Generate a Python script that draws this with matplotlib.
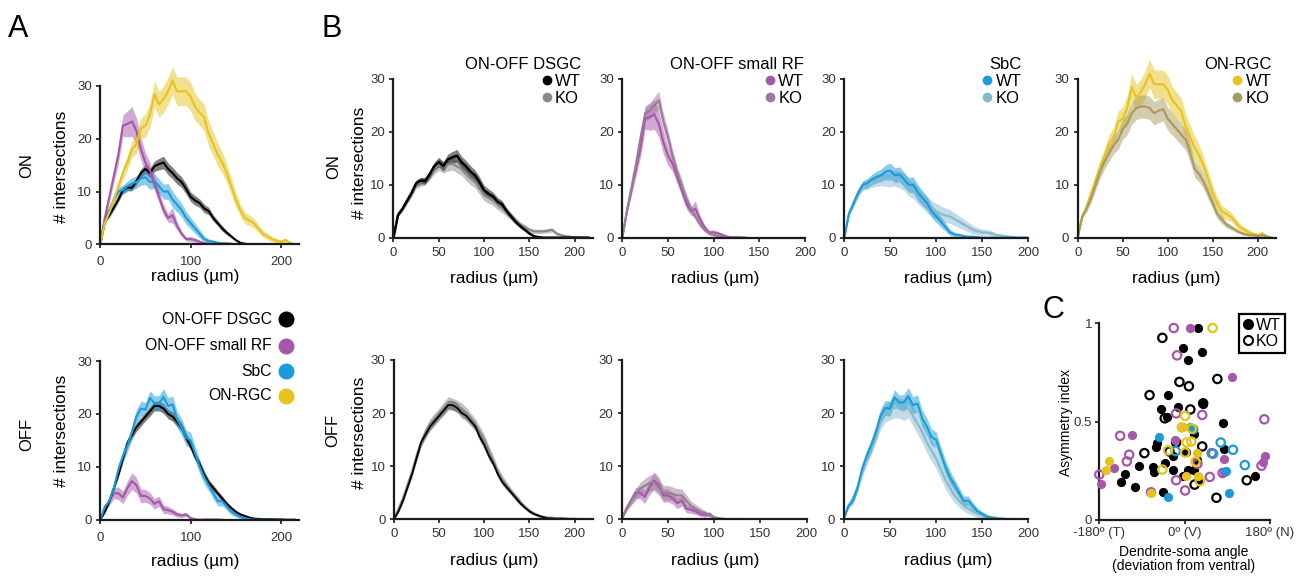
import numpy as np
import matplotlib.pyplot as plt
from matplotlib.lines import Line2D

plt.rcParams['font.family'] = ['Liberation Sans', 'DejaVu Sans']

W, H = 1298, 577
radius = np.arange(0, 220, 5)   # sholl radius (µm), 5 µm steps

# ---- Sholl data: mean and sem, ON layer ----
dsgc_on_wt = [0, 4.3, 5.5, 7.0, 8.5, 10.3, 10.8, 10.7, 12, 13.5, 14.3, 13.5, 14.8, 15.2, 15.5, 14.3, 13.5, 12.5,
              11.8, 10.5, 9.0, 8.3, 7.8, 6.8, 6.3, 5.0, 4.0, 3.0, 2.2, 1.5, 0.8, 0.3, 0.1, 0, 0, 0, 0, 0, 0, 0, 0, 0, 0, 0]
dsgc_on_wt_sem = [0, 0.3, 0.4, 0.5, 0.5, 0.6, 0.6, 0.6, 0.7, 0.8, 0.9, 0.9, 1.0, 1.1, 1.2, 1.1, 1.1, 1.1, 1.0, 1.0,
                  0.9, 0.9, 0.8, 0.8, 0.7, 0.6, 0.5, 0.5, 0.4, 0.3, 0.2, 0.1, 0.05, 0, 0, 0, 0, 0, 0, 0, 0, 0, 0, 0]
dsgc_on_ko = [0, 4.3, 5.5, 7.0, 8.3, 10.0, 10.5, 10.8, 11.8, 13.0, 13.8, 13.3, 13.8, 14.0, 13.5, 13.0, 12.0, 11.2,
              10.5, 9.3, 8.0, 7.5, 7.0, 6.2, 5.5, 4.8, 4.0, 3.2, 2.5, 2.0, 1.5, 1.2, 1.2, 1.2, 1.3, 1.5, 0.8, 0.5,
              0.3, 0.2, 0.1, 0.05, 0, 0]
dsgc_on_ko_sem = [0, 0.3, 0.4, 0.5, 0.6, 0.7, 0.8, 0.8, 0.9, 1.0, 1.1, 1.1, 1.2, 1.2, 1.2, 1.2, 1.2, 1.2, 1.1, 1.1,
                  1.0, 1.0, 0.9, 0.9, 0.8, 0.8, 0.7, 0.6, 0.5, 0.5, 0.4, 0.4, 0.4, 0.4, 0.4, 0.4, 0.3, 0.2, 0.15,
                  0.1, 0.05, 0.05, 0, 0]

srf_on_wt = [0, 5, 9, 13, 17, 22.5, 22.8, 23.3, 21.5, 18, 15.5, 14, 11.5, 9, 6.5, 5, 5.5, 3.5, 2, 1, 1, 0.8, 0.5,
             0.2, 0.1, 0.1, 0.05, 0]
srf_on_wt_sem = [0, 0.6, 1.0, 1.3, 1.7, 2.0, 2.5, 2.8, 2.5, 2.2, 1.8, 1.5, 1.3, 1.1, 1.0, 0.8, 1.5, 0.8, 0.5, 0.4,
                 0.5, 0.4, 0.3, 0.2, 0.1, 0.1, 0.05, 0]
srf_on_ko = [0, 5, 9.5, 14, 19, 23.5, 24, 25, 26, 22, 19, 15.5, 12.5, 10, 7.5, 5.5, 4, 2.5, 1.5, 0.8, 0.5, 0.3,
             0.1, 0, 0, 0, 0, 0]
srf_on_ko_sem = [0, 0.5, 0.8, 1.0, 1.3, 1.5, 1.5, 1.6, 1.7, 1.5, 1.4, 1.2, 1.1, 1.0, 0.9, 0.8, 0.6, 0.5, 0.4, 0.3,
                 0.2, 0.1, 0.05, 0, 0, 0, 0, 0]

sbc_on_wt = [0, 4.5, 6.5, 8.5, 10, 10.3, 11, 11.5, 11.8, 12.5, 12.7, 11.8, 12, 11, 10, 10, 8.5, 7.5, 6.5, 5, 4, 3,
             2, 1, 0.6, 0.5, 0.3, 0.2, 0.2, 0.1, 0, 0, 0, 0, 0, 0, 0, 0, 0, 0, 0]
sbc_on_wt_sem = [0, 0.4, 0.6, 0.7, 0.8, 0.9, 1.0, 1.1, 1.2, 1.3, 1.4, 1.4, 1.4, 1.4, 1.4, 1.5, 1.5, 1.4, 1.3, 1.2,
                 1.1, 1.0, 0.8, 0.6, 0.4, 0.3, 0.2, 0.15, 0.1, 0.1, 0, 0, 0, 0, 0, 0, 0, 0, 0, 0, 0]
sbc_on_ko = [0, 4.5, 6.5, 8.5, 9.8, 10, 10.5, 10.8, 11, 11, 11, 11.3, 11, 10.5, 9.5, 9, 8, 7, 6.2, 5.5, 5, 4.5,
             4.2, 4, 3.5, 3, 2.5, 2, 1.5, 1.2, 1, 1, 0.8, 0.5, 0.4, 0.3, 0.2, 0.1, 0, 0, 0]
sbc_on_ko_sem = [0, 0.4, 0.6, 0.7, 0.8, 0.9, 1.0, 1.1, 1.2, 1.3, 1.4, 1.5, 1.6, 1.6, 1.6, 1.6, 1.6, 1.5, 1.5, 1.5,
                 1.5, 1.5, 1.4, 1.3, 1.2, 1.1, 1.0, 0.9, 0.8, 0.7, 0.6, 0.5, 0.5, 0.4, 0.3, 0.2, 0.15, 0.1, 0.05,
                 0, 0]

onrgc_on_wt = [0, 4, 6, 8.5, 11, 13.5, 15.5, 18, 19, 22, 22.5, 24.5, 28.5, 26.5, 27.5, 29, 31, 29, 29, 29, 28, 26,
               25, 24, 21, 19, 17, 15.5, 13.5, 11, 8.5, 6.5, 5, 4.5, 4, 3, 2, 1.5, 1, 0.7, 0.5, 0.8, 0.3, 0]
onrgc_on_wt_sem = [0, 0.4, 0.6, 0.8, 1.0, 1.2, 1.4, 1.6, 1.8, 2.0, 2.2, 2.3, 2.5, 2.5, 2.5, 2.6, 2.7, 2.7, 2.7,
                   2.7, 2.7, 2.6, 2.5, 2.5, 2.4, 2.3, 2.2, 2.0, 1.8, 1.6, 1.4, 1.2, 1.1, 1.0, 0.9, 0.8, 0.7, 0.6,
                   0.5, 0.4, 0.3, 0.4, 0.2, 0]
onrgc_on_ko = [0, 4, 5.5, 7.5, 10, 12.5, 14.5, 16, 17.5, 18.5, 20.5, 21.5, 23.5, 24.5, 24.8, 24.8, 24.5, 23.5, 24,
               24.3, 22.5, 21.5, 20.5, 19.5, 18.5, 16, 13, 12, 10.5, 8.5, 6.5, 4.5, 3.5, 2.5, 2, 1.5, 1, 0.7, 0.5,
               0.5, 0.3, 0.5, 0.2, 0]
onrgc_on_ko_sem = [0, 0.4, 0.6, 0.8, 1.0, 1.2, 1.4, 1.5, 1.6, 1.8, 1.9, 2.0, 2.1, 2.2, 2.2, 2.2, 2.2, 2.2, 2.2,
                   2.2, 2.2, 2.1, 2.0, 2.0, 1.9, 1.8, 1.6, 1.5, 1.3, 1.2, 1.0, 0.9, 0.8, 0.6, 0.5, 0.4, 0.3, 0.3,
                   0.2, 0.2, 0.2, 0.2, 0.1, 0]

# ---- OFF layer ----
dsgc_off_wt = [0, 1.5, 3.5, 6, 8.5, 11.5, 14.5, 16, 17.5, 18.5, 19.5, 20.5, 21.5, 21.5, 21, 20, 19.5, 18.5, 17.5,
               15.5, 14, 12, 10.5, 8.5, 7, 6, 5, 4, 3, 2.2, 1.5, 1, 0.7, 0.4, 0.2, 0.15, 0.1, 0.1, 0.1, 0.05, 0.05,
               0, 0, 0]
dsgc_off_wt_sem = [0, 0.2, 0.3, 0.4, 0.5, 0.6, 0.7, 0.7, 0.8, 0.8, 0.8, 0.9, 0.9, 0.9, 0.9, 0.9, 0.9, 0.9, 0.8,
                   0.8, 0.8, 0.8, 0.7, 0.7, 0.6, 0.6, 0.5, 0.5, 0.4, 0.3, 0.3, 0.2, 0.2, 0.1, 0.1, 0.1, 0.05,
                   0.05, 0.05, 0.05, 0.05, 0, 0, 0]
dsgc_off_ko = [0, 2, 4, 6.5, 9, 12, 14.5, 16.5, 18, 19, 20, 21, 22, 21.7, 21.3, 20.8, 20, 19, 18, 16.5, 15, 13,
               11, 9, 7.5, 6.3, 5.2, 4.2, 3.2, 2.3, 1.6, 1.1, 0.7, 0.5, 0.3, 0.3, 0.2, 0.2, 0.15, 0.1, 0.1, 0.05,
               0, 0]
dsgc_off_ko_sem = [0, 0.3, 0.4, 0.5, 0.6, 0.7, 0.8, 0.9, 1.0, 1.0, 1.0, 1.1, 1.1, 1.1, 1.1, 1.1, 1.1, 1.0, 1.0,
                   1.0, 1.0, 0.9, 0.9, 0.8, 0.8, 0.7, 0.6, 0.6, 0.5, 0.4, 0.4, 0.3, 0.3, 0.2, 0.2, 0.2, 0.2, 0.15,
                   0.1, 0.1, 0.1, 0.05, 0, 0]

srf_off_wt = [0, 2, 3.5, 5, 5, 4.2, 6, 7.3, 6.5, 4.5, 4.5, 4, 3, 3.5, 2, 1.8, 1.5, 1, 0.8, 1, 0.3, 0.1, 0, 0.05,
              0.05, 0.05, 0.05, 0]
srf_off_wt_sem = [0, 0.5, 0.8, 1.0, 1.2, 1.2, 1.4, 1.6, 1.5, 1.3, 1.2, 1.1, 1.0, 1.0, 0.8, 0.7, 0.6, 0.5, 0.4,
                  0.4, 0.2, 0.1, 0.05, 0.05, 0.05, 0.05, 0.05, 0]
srf_off_ko = [0, 2, 3.5, 4.5, 5.8, 6.3, 6.8, 7, 6, 5, 5, 4.8, 4.5, 4.5, 3.5, 2.5, 2, 1.5, 1.2, 0.8, 0.4, 0.2, 0.1,
              0, 0, 0, 0, 0]
srf_off_ko_sem = [0, 0.5, 0.8, 1.0, 1.2, 1.4, 1.5, 1.6, 1.5, 1.4, 1.4, 1.3, 1.3, 1.2, 1.1, 0.9, 0.8, 0.7, 0.5,
                  0.4, 0.3, 0.2, 0.1, 0, 0, 0, 0, 0]

sbc_off_wt = [0, 2.5, 3.5, 6, 9.5, 12, 14, 16.5, 19.5, 21, 20.8, 23, 22, 22, 23.2, 21.5, 21.8, 19, 17.5, 15.5, 15,
              12.5, 10, 8, 6.5, 5, 3.5, 3.5, 2.5, 1.5, 1, 0.5, 0.3, 0.1, 0, 0, 0, 0, 0, 0, 0]
sbc_off_wt_sem = [0, 0.4, 0.6, 0.8, 1.0, 1.1, 1.2, 1.3, 1.4, 1.4, 1.4, 1.4, 1.4, 1.5, 1.6, 1.6, 1.6, 1.6, 1.6,
                  1.5, 1.5, 1.4, 1.3, 1.2, 1.1, 1.0, 0.9, 0.9, 0.7, 0.6, 0.5, 0.3, 0.2, 0.1, 0, 0, 0, 0, 0, 0, 0]
sbc_off_ko = [0, 2.5, 4, 6, 9, 11.5, 13.5, 16, 18.5, 20, 20.5, 21, 21, 20.5, 21, 19.5, 18, 16.5, 14.5, 13, 11.5,
              9.5, 7.5, 6, 4.5, 3.5, 2.5, 2, 1.5, 1, 0.8, 0.5, 0.4, 0.3, 0.2, 0.1, 0.05, 0.05, 0, 0, 0]
sbc_off_ko_sem = [0, 0.5, 0.7, 0.9, 1.1, 1.3, 1.4, 1.5, 1.6, 1.7, 1.8, 1.9, 1.9, 1.9, 1.9, 1.9, 2.0, 2.0, 2.0,
                  2.0, 1.9, 1.8, 1.7, 1.6, 1.4, 1.2, 1.0, 0.9, 0.8, 0.7, 0.6, 0.5, 0.4, 0.3, 0.3, 0.2, 0.1, 0.1,
                  0.05, 0, 0]

# ---- panel C: dendrite-soma angle (deg) vs asymmetry index ----
dsgc_wt_angle = [28, -4, 8, 37, -35, -50, -37, -15, 39, 80, 19, -59, -61, -97, -126, -134, -105, -66, -64, -42,
                 -25, -25, 2, 8, 19, 30, 25, 83, -46, 148, -4]
dsgc_wt_asym = [0.976, 0.875, 0.811, 0.853, 0.633, 0.562, 0.522, 0.572, 0.589, 0.495, 0.438, 0.394, 0.370, 0.273,
                0.236, 0.192, 0.168, 0.269, 0.246, 0.290, 0.256, 0.323, 0.347, 0.253, 0.253, 0.205, 0.306, 0.360,
                0.141, 0.226, 0.226]
dsgc_ko_angle = [-47, -11, 9, 69, -74, -42, 12, 39, -85, -18, 37, 21, 67, 131, -32]
dsgc_ko_asym = [0.926, 0.702, 0.680, 0.717, 0.635, 0.517, 0.562, 0.593, 0.340, 0.394, 0.374, 0.180, 0.113, 0.202,
                0.348]
srf_wt_angle = [12, 100, -112, -150, -177, 83, 169, 166, -21, 83]
srf_wt_asym = [0.976, 0.727, 0.431, 0.263, 0.185, 0.310, 0.323, 0.293, 0.407, 0.244]
srf_ko_angle = [-23, -16, 168, -136, -117, -122, -180, -18, 1, -71, 53, 37, -18, 162, 80, 57, 27]
srf_ko_asym = [0.976, 0.837, 0.512, 0.428, 0.332, 0.298, 0.231, 0.202, 0.150, 0.141, 0.219, 0.534, 0.542, 0.276,
               0.239, 0.340, 0.286]
sbc_wt_angle = [-54, -36, 94, 87, 11]
sbc_wt_asym = [0.421, 0.118, 0.138, 0.249, 0.471]
sbc_ko_angle = [76, 102, 127, 60, 18, -19]
sbc_ko_asym = [0.394, 0.357, 0.279, 0.337, 0.461, 0.350]
onrgc_wt_angle = [-159, -166, -70, 2, 28, 26, -4]
onrgc_wt_asym = [0.300, 0.253, 0.135, 0.226, 0.222, 0.343, 0.475]
onrgc_ko_angle = [59, 1, 15, 4, 14, 1, -35, -47, 23, 32, -6]
onrgc_ko_asym = [0.976, 0.529, 0.465, 0.394, 0.399, 0.343, 0.354, 0.256, 0.296, 0.197, 0.471]

# colours
c_dsgc, c_dsgc_ko = '#000000', '#8a8a8a'
c_srf, c_srf_ko = '#a557a8', '#9a7b9a'
c_sbc, c_sbc_ko = '#1b9bd7', '#86b9cf'
c_rgc, c_rgc_ko = '#e5c41f', '#a89a5e'
tick_col = '#333333'

fig = plt.figure(figsize=(W / 100, H / 100), dpi=100)


def px(x, y):
    return x / W, 1 - y / H


def curve_axes(xl, xr, y0, y30, xmax, a_style=False):
    p = (y0 - y30) / 30
    top = y0 - 35 * p
    ax = fig.add_axes([xl / W, 1 - y0 / H, (xr - xl) / W, (y0 - top) / H])
    ax.set_xlim(0, xmax)
    ax.set_ylim(0, 35)
    ax.spines[['top', 'right']].set_visible(False)
    ax.spines['left'].set_bounds(0, 30)
    for s in ('left', 'bottom'):
        ax.spines[s].set_linewidth(1.6)
        ax.spines[s].set_color('#1a1a1a')
    ax.set_yticks([0, 10, 20, 30])
    if a_style:
        ax.set_xticks([0, 100, 200])
    else:
        ax.set_xticks([0, 50, 100, 150, 200])
    ax.tick_params(direction='out', length=3, width=1.2, color='#1a1a1a',
                   labelsize=9.5, labelcolor=tick_col, pad=3)
    ax.tick_params(axis='x', pad=5.5 if a_style else 3.5)
    return ax


def band(ax, mean, sem, color, lw=1.5, alpha=0.5):
    m = np.array(mean)
    s = np.array(sem)
    r = radius[:len(m)]
    ax.fill_between(r, m - s, m + s, color=color, alpha=alpha, lw=0)
    ax.plot(r, m, color=color, lw=lw)


def wt_ko_legend(ax, title, cw, ck, right_px, top_px):
    hs = [Line2D([], [], ls='none', marker='o', ms=6, mfc=c, mec=c) for c in (cw, ck)]
    ax.legend(hs, ['WT', 'KO'], title=title, loc='upper right',
              bbox_to_anchor=px(right_px, top_px), bbox_transform=fig.transFigure,
              frameon=False, fontsize=12, title_fontsize=12, alignment='right',
              handlelength=0.5, handletextpad=0.25, labelspacing=0.12, borderpad=0,
              borderaxespad=0)


# ---------------- panel A ----------------
axA1 = curve_axes(100.3, 299, 244.3, 86, 220, a_style=True)
band(axA1, dsgc_on_wt, dsgc_on_wt_sem, c_dsgc)
band(axA1, sbc_on_wt, sbc_on_wt_sem, c_sbc)
band(axA1, srf_on_wt, srf_on_wt_sem, c_srf)
band(axA1, onrgc_on_wt, onrgc_on_wt_sem, c_rgc)

axA2 = curve_axes(100.3, 299, 519.7, 361, 220, a_style=True)
band(axA2, srf_off_wt, srf_off_wt_sem, c_srf)
band(axA2, dsgc_off_wt, dsgc_off_wt_sem, c_dsgc)
band(axA2, sbc_off_wt, sbc_off_wt_sem, c_sbc)

# cell-type key of panel A
key_names = ['ON-OFF DSGC', 'ON-OFF small RF', 'SbC', 'ON-RGC']
key_cols = [c_dsgc, c_srf, c_sbc, c_rgc]
key_rows = [319, 345.5, 371, 396]
for name, col, yk in zip(key_names, key_cols, key_rows):
    fig.text(*px(271.5, yk), name, ha='right', va='center', fontsize=11.3)
    fig.add_artist(Line2D([286.3 / W], [1 - yk / H], transform=fig.transFigure, ls='none',
                          marker='o', ms=10.5, mfc=col, mec=col))

# ---------------- panel B ----------------
axB1 = curve_axes(393.5, 592.7, 237.7, 79, 220)
band(axB1, dsgc_on_ko, dsgc_on_ko_sem, c_dsgc_ko)
band(axB1, dsgc_on_wt, dsgc_on_wt_sem, c_dsgc, lw=1.8)
wt_ko_legend(axB1, 'ON-OFF DSGC', c_dsgc, c_dsgc_ko, 581, 57)

axB2 = curve_axes(622.3, 805, 237.7, 79, 200)
band(axB2, srf_on_wt, srf_on_wt_sem, c_srf)
band(axB2, srf_on_ko, srf_on_ko_sem, c_srf_ko)
wt_ko_legend(axB2, 'ON-OFF small RF', c_srf, c_srf_ko, 804, 57)

axB3 = curve_axes(844.3, 1028.3, 237.7, 79, 200)
band(axB3, sbc_on_ko, sbc_on_ko_sem, c_sbc_ko)
band(axB3, sbc_on_wt, sbc_on_wt_sem, c_sbc)
wt_ko_legend(axB3, 'SbC', c_sbc, c_sbc_ko, 1021.5, 57)

axB4 = curve_axes(1077.7, 1275.7, 237.7, 79, 220)
band(axB4, onrgc_on_wt, onrgc_on_wt_sem, c_rgc)
band(axB4, onrgc_on_ko, onrgc_on_ko_sem, c_rgc_ko)
wt_ko_legend(axB4, 'ON-RGC', c_rgc, c_rgc_ko, 1271.5, 57)

axB5 = curve_axes(394, 592.7, 519.3, 360, 220)
band(axB5, dsgc_off_ko, dsgc_off_ko_sem, c_dsgc_ko)
band(axB5, dsgc_off_wt, dsgc_off_wt_sem, c_dsgc, lw=1.3, alpha=0.35)

axB6 = curve_axes(621.7, 806.7, 519.3, 360, 200)
band(axB6, srf_off_wt, srf_off_wt_sem, c_srf)
band(axB6, srf_off_ko, srf_off_ko_sem, c_srf_ko)

axB7 = curve_axes(843.7, 1028.3, 519.3, 360, 200)
band(axB7, sbc_off_ko, sbc_off_ko_sem, c_sbc_ko)
band(axB7, sbc_off_wt, sbc_off_wt_sem, c_sbc)

# axis labels
for xc, yc in [(195, 276.7), (195, 561.7), (494, 278.3), (715.5, 278.3), (948, 278.3),
               (1176, 278.3), (494, 561), (715.5, 561), (948.5, 561)]:
    fig.text(*px(xc, yc), 'radius (µm)', ha='center', va='center', fontsize=12.5)
for xc, yc in [(62, 166.5), (61.7, 431), (360, 162.5), (360, 432.5)]:
    fig.text(*px(xc, yc), '# intersections', ha='center', va='center', rotation=90, fontsize=12.5)
fig.text(*px(27, 166), 'ON', ha='center', va='center', rotation=90, fontsize=12)
fig.text(*px(26.7, 434.5), 'OFF', ha='center', va='center', rotation=90, fontsize=12)
fig.text(*px(333.3, 167), 'ON', ha='center', va='center', rotation=90, fontsize=12)
fig.text(*px(332.5, 430.7), 'OFF', ha='center', va='center', rotation=90, fontsize=12)

# ---------------- panel C ----------------
xl, xr, y0, y1 = 1099.3, 1270, 520, 323.3
axC = fig.add_axes([xl / W, 1 - y0 / H, (xr - xl) / W, (y0 - y1) / H])
axC.set_xlim(-180, 180)
axC.set_ylim(0, 1)
axC.spines[['top', 'right']].set_visible(False)
for s in ('left', 'bottom'):
    axC.spines[s].set_linewidth(1.6)
    axC.spines[s].set_color('#1a1a1a')
axC.set_xticks([-180, 0, 180])
axC.set_xticklabels(['-180º (T)', '0º (V)', '180º (N)'])
axC.set_yticks([0, 0.5, 1])
axC.set_yticklabels(['0', '0.5', '1'])
axC.tick_params(direction='out', length=3, width=1.2, color='#1a1a1a',
                labelsize=9.5, labelcolor=tick_col, pad=2)

groups = [
    (dsgc_wt_angle, dsgc_wt_asym, c_dsgc, True), (dsgc_ko_angle, dsgc_ko_asym, c_dsgc, False),
    (srf_wt_angle, srf_wt_asym, c_srf, True), (srf_ko_angle, srf_ko_asym, c_srf, False),
    (sbc_wt_angle, sbc_wt_asym, c_sbc, True), (sbc_ko_angle, sbc_ko_asym, c_sbc, False),
    (onrgc_wt_angle, onrgc_wt_asym, c_rgc, True), (onrgc_ko_angle, onrgc_ko_asym, c_rgc, False),
]
for ang, asym, col, filled in groups:
    if filled:
        axC.scatter(ang, asym, s=44, color=col, lw=0, clip_on=False, zorder=3)
    else:
        axC.scatter(ang, asym, s=36, facecolors='none', edgecolors=col, lw=1.6, clip_on=False, zorder=3)

fig.text(*px(1066, 422.5), 'Asymmetry index', ha='center', va='center', rotation=90, fontsize=10)
fig.text(*px(1183.3, 559), 'Dendrite-soma angle\n(deviation from ventral)', ha='center',
         va='center', fontsize=10, linespacing=1.05)

hC = [Line2D([], [], ls='none', marker='o', ms=7, mfc='black', mec='black'),
      Line2D([], [], ls='none', marker='o', ms=6.5, mfc='none', mec='black', mew=1.5)]
legC = axC.legend(hC, ['WT', 'KO'], loc='upper right', bbox_to_anchor=px(1285, 314),
                  bbox_transform=fig.transFigure, fontsize=11.5, fancybox=False,
                  edgecolor='black', framealpha=1, handlelength=0.6, handletextpad=0.2,
                  labelspacing=0.05, borderpad=0.25, borderaxespad=0)
legC.get_frame().set_linewidth(1.6)

# panel letters
fig.text(*px(8, 36.7), 'A', fontsize=22, va='baseline')
fig.text(*px(321, 36.7), 'B', fontsize=22, va='baseline')
fig.text(*px(1042, 318.3), 'C', fontsize=22, va='baseline')

fig.savefig('out.png', dpi=100)
